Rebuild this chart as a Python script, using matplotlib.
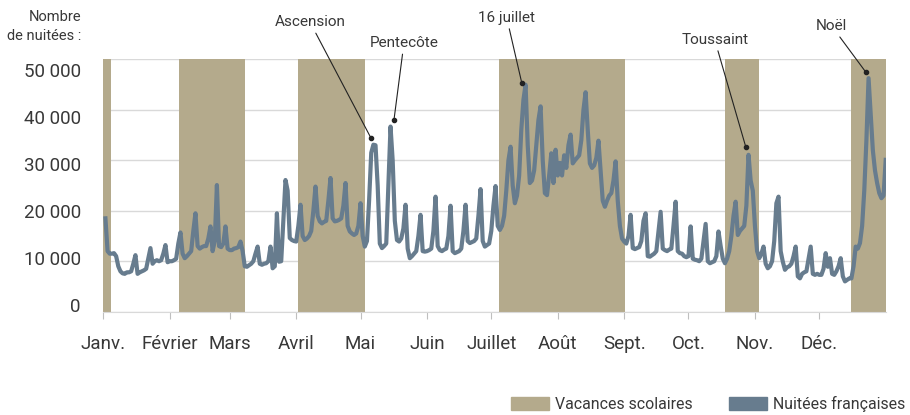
import numpy as np
import matplotlib.pyplot as plt
import matplotlib.transforms as mtransforms
from matplotlib.patches import Patch

plt.rcParams['font.family'] = ['Roboto', 'DejaVu Sans']

# nuitées françaises par jour (en milliers)
jan = [18.5, 12.0, 11.5, 11.5, 11.6, 11.0, 9.0, 8.0, 7.6, 7.5, 7.8, 7.8, 8.0, 9.5, 11.2, 7.5,
       7.8, 8.0, 8.2, 8.5, 10.5, 12.6, 9.5, 10.0, 10.2, 10.0, 10.2, 11.5, 13.2, 9.8, 10.0]
feb = [10.0, 10.2, 10.5, 13.5, 15.7, 11.5, 10.6, 11.0, 11.5, 12.0, 16.0, 19.5, 13.0, 12.5,
       12.8, 13.0, 13.0, 14.5, 16.9, 12.0, 14.0, 25.1, 13.0, 12.8, 13.5, 16.9, 12.5, 12.2]
mar = [12.2, 12.5, 12.6, 12.8, 13.9, 12.0, 9.0, 8.9, 9.2, 9.5, 10.0, 11.5, 12.9, 9.5, 9.3, 9.5,
       9.6, 10.0, 12.9, 8.6, 9.0, 19.5, 9.9, 10.0, 18.0, 26.1, 24.0, 14.6, 14.2, 14.0, 13.9]
apr = [17.0, 21.2, 15.0, 14.2, 14.5, 15.0, 16.0, 20.0, 24.8, 19.0, 17.9, 17.5, 17.8, 18.0, 22.0,
       26.5, 18.5, 17.9, 18.0, 18.2, 18.5, 21.0, 25.5, 17.0, 15.9, 15.5, 15.2, 15.5, 17.0, 21.5]
may = [15.0, 12.9, 14.0, 22.0, 31.5, 33.1, 33.0, 25.0, 13.5, 12.6, 13.0, 13.5, 25.0, 36.7, 30.0,
       18.0, 14.2, 13.9, 14.5, 16.5, 21.2, 12.5, 10.6, 11.0, 11.5, 12.0, 15.0, 19.2, 12.0, 11.9, 12.0]
jun = [12.2, 12.5, 16.0, 22.8, 13.0, 12.2, 12.0, 12.3, 12.5, 15.0, 21.0, 12.0, 11.6, 11.8, 12.0,
       12.5, 16.0, 21.2, 14.0, 13.6, 13.8, 14.0, 14.5, 19.0, 24.3, 14.0, 12.9, 13.2, 13.5, 16.0]
jul = [21.0, 24.9, 17.0, 16.2, 17.0, 19.0, 24.0, 30.0, 32.7, 25.0, 21.5, 23.0, 27.0, 36.0, 42.0,
       45.0, 33.0, 25.5, 26.0, 28.0, 33.0, 38.0, 40.7, 30.0, 23.5, 23.1, 27.0, 31.4, 25.5, 32.1, 27.0]
aug = [29.5, 27.0, 31.0, 28.5, 33.0, 35.1, 29.4, 30.0, 30.5, 31.0, 34.0, 40.0, 43.5, 36.0, 29.4,
       28.5, 29.0, 30.5, 33.9, 28.0, 22.0, 20.8, 22.0, 23.0, 23.5, 26.0, 29.8, 22.0, 17.0, 14.5, 13.9]
sep = [13.5, 15.0, 19.2, 12.6, 12.4, 12.6, 12.8, 14.0, 18.0, 19.5, 11.0, 10.9, 11.2, 11.5, 12.0,
       16.0, 19.8, 12.5, 12.2, 12.0, 12.3, 12.5, 17.0, 21.8, 12.0, 11.6, 11.5, 11.0, 10.8, 11.0]
oct_ = [16.9, 10.5, 10.3, 10.2, 10.0, 10.5, 14.0, 17.4, 10.0, 9.6, 9.8, 10.0, 11.0, 15.9, 13.0,
        10.5, 9.6, 10.5, 12.0, 15.0, 19.0, 21.8, 15.2, 16.0, 16.5, 17.0, 21.0, 31.1, 26.0, 24.0, 17.0]
nov = [12.0, 10.6, 11.5, 12.9, 9.5, 8.6, 9.0, 10.0, 14.0, 21.5, 22.8, 12.0, 9.9, 8.3, 8.8,
       9.0, 9.5, 11.0, 12.9, 7.0, 6.6, 7.5, 7.8, 8.0, 10.5, 12.9, 7.5, 7.3, 7.5, 7.3]
dec = [7.3, 8.5, 11.6, 8.9, 10.6, 7.5, 7.3, 8.0, 9.0, 10.6, 7.0, 6.0, 6.3, 6.6, 6.6, 9.0,
       12.9, 12.5, 13.6, 17.0, 24.0, 34.0, 46.3, 39.0, 32.0, 28.0, 25.5, 23.5, 22.5, 23.0, 30.1]

month_labels = ['Janv.', 'Février', 'Mars', 'Avril', 'Mai', 'Juin', 'Juillet', 'Août',
                'Sept.', 'Oct.', 'Nov.', 'Déc.']
month_days = [0, 31, 59, 90, 120, 151, 181, 212, 243, 273, 304, 334]

# vacances scolaires (jour de début, jour de fin)
vac_start = [0, 35.5, 91, 184.5, 290, 349]
vac_end = [3.5, 66, 122, 243.5, 306, 365]

# annotations
annot_labels = ['Ascension', 'Pentecôte', '16 juillet', 'Toussaint', 'Noël']
annot_days = [124.9, 135.6, 195.2, 299.7, 355.7]
annot_values = [34400, 38000, 45400, 32700, 47500]
annot_offsets = [(-61, 116), (10, 77), (-15, 65), (-31, 107), (-34, 46)]

tan = '#b4aa8c'
blue = '#677c8e'
grey_txt = '#383838'

values = np.concatenate([jan, feb, mar, apr, may, jun, jul, aug, sep, oct_, nov, dec]) * 1000
days = np.arange(1, len(values) + 1)

fig = plt.figure(figsize=(9.1, 4.15), dpi=100)
ax = fig.add_axes([0.1135, 0.249, 0.8598, 0.6077])

for s, e in zip(vac_start, vac_end):
    ax.axvspan(s, e, color=tan, lw=0, zorder=1)

ax.plot(days, values, color=blue, lw=3, zorder=2, solid_joinstyle='round')

ax.set_xlim(0, 365)
ax.set_ylim(0, 50000)

yticks = np.arange(0, 50001, 10000)
ax.set_yticks(yticks)
ax.set_yticklabels([])
ax.yaxis.grid(True, color='#d9d9d9', lw=1)
ax.set_axisbelow(True)
ax.tick_params(axis='y', length=0)

# étiquettes de l'axe y, espacées un peu plus serré que la grille
for k, v in enumerate(yticks):
    dy = 4.2 - 3.44 * k
    tr = ax.get_yaxis_transform() + mtransforms.ScaledTranslation(-0.225, dy / 100, fig.dpi_scale_trans)
    ax.text(0, v, f"{int(v):,}".replace(",", " "), transform=tr, ha='right', va='center',
            fontsize=13.5, color=grey_txt)

ax.set_xticks(month_days)
ax.set_xticklabels(month_labels, fontsize=13.5, color=grey_txt)
ax.tick_params(axis='x', length=5, color='#bfbfbf', pad=12)

for side in ['top', 'right', 'left']:
    ax.spines[side].set_visible(False)
ax.spines['bottom'].set_color('#d9d9d9')

fig.text(0.089, 0.975, 'Nombre\nde nuitées :', ha='right', va='top', fontsize=10.5,
         color=grey_txt, linespacing=1.45)

for lab, d, v, (dx, dy) in zip(annot_labels, annot_days, annot_values, annot_offsets):
    ax.annotate(lab, xy=(d, v), xytext=(dx, dy), textcoords='offset pixels',
                ha='center', va='center', fontsize=11, color=grey_txt,
                arrowprops=dict(arrowstyle='-', color='#222222', lw=0.8, shrinkA=1, shrinkB=0),
                annotation_clip=False)
    ax.plot(d, v, 'o', ms=3, color='#222222', clip_on=False, zorder=3)

handles = [Patch(color=tan), Patch(color=blue)]
fig.legend(handles, ['Vacances scolaires', 'Nuitées françaises'], loc='center right',
           bbox_to_anchor=(0.9945, 0.026), ncol=2, frameon=False, fontsize=11.4,
           handlelength=2.4, handleheight=0.84, handletextpad=0.38, columnspacing=2.28,
           borderpad=0, borderaxespad=0, labelcolor=grey_txt)

fig.savefig('out.png', dpi=100)
